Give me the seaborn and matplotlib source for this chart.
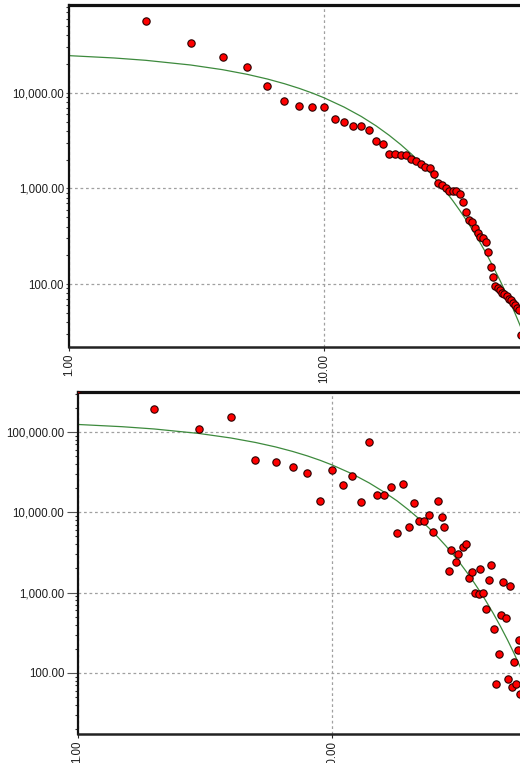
import numpy as np
import pandas as pd
import matplotlib
matplotlib.use("Agg")
import matplotlib.pyplot as plt
from matplotlib.ticker import FixedLocator, FuncFormatter, LogLocator, NullLocator, NullFormatter
import seaborn as sns

# ---------------- data ----------------
top_rank = list(range(2, 60))
top_value = [57000, 33700, 23700, 18600, 11800, 8300, 7360, 7080, 7080,
             5300, 4930, 4510, 4510, 4100, 3160, 2920, 2310, 2310, 2230,
             2230, 2020, 1940, 1800, 1690, 1630, 1430, 1130, 1090, 1005,
             948, 945, 940, 875, 716, 571, 464, 449, 383, 339, 313, 300,
             277, 218, 150, 119, 95, 91, 86, 81, 78, 74, 70, 68, 63, 60,
             56, 53, 29]
top_fit_x = [1, 1.5, 2, 3, 4, 5, 6, 7, 8, 9, 10, 12, 14, 16, 18, 20, 22, 24,
             26, 28, 30, 32, 34, 36, 38, 40, 43, 46, 49, 52, 55, 58, 60]
top_fit_y = [24600, 23260, 21980, 19630, 17540, 15670, 14000, 12500, 11170,
             9980, 8910, 7110, 5680, 4530, 3610, 2880, 2300, 1840, 1470,
             1170, 933, 745, 594, 474, 378, 302, 215, 153, 109, 78, 56, 40, 32]

bot_rank = [1, 2, 3, 4, 5, 6, 7, 8, 9, 10, 11, 12, 13, 14, 15, 16, 17, 18,
            19, 20, 21, 22, 23, 24, 25, 26, 27, 27.6, 28.7, 29.4, 30.6,
            31.4, 32.6, 33.6, 34.4, 35.6, 36.6, 37.8, 38.3, 39.2, 40.4,
            41.4, 42.2, 43.4, 44.2, 45.3, 46.1, 46.9, 48.4, 49.1, 50.0,
            51.0, 51.8, 52.9, 53.6, 54.4, 54.6]
bot_value = [345000, 193000, 110000, 154000, 44400, 41900, 36400, 30600,
             13900, 33600, 21900, 28100, 13500, 75700, 16400, 16400, 20800,
             5470, 22200, 6520, 13200, 7680, 7680, 9180, 5640, 13900, 8670,
             6520, 1840, 3370, 2370, 3030, 3730, 4050, 1500, 1780, 980, 962,
             1950, 980, 625, 1415, 2220, 355, 73, 171, 526, 1335, 483, 84,
             1210, 67, 136, 73, 191, 253, 54]
bot_fit_x = [1, 1.5, 2, 3, 4, 5, 6, 7, 8, 9, 10, 12, 14, 16, 18, 20, 22, 24,
             26, 28, 30, 32, 34, 36, 38, 40, 43, 46, 49, 52, 55, 58, 60]
bot_fit_y = [124200, 116400, 109100, 95900, 84300, 74100, 65200, 57300, 50400,
             44300, 38900, 30100, 23200, 17900, 13900, 10700, 8280, 6400, 4940,
             3820, 2950, 2280, 1760, 1360, 1050, 813, 552, 375, 255, 173, 117,
             80, 62]

top_yticks = [100, 1000, 10000]
bot_yticks = [100, 1000, 10000, 100000]
x_ticks = [1, 10]
x_tick_labels = ["1.00", "10.00"]

# ---------------- styling ----------------
sns.set_theme(style="white")
plt.rcParams["font.family"] = ["Liberation Sans", "DejaVu Sans"]

W, H = 520, 763
fig = plt.figure(figsize=(W / 100, H / 100), dpi=100)
fig.patch.set_facecolor("white")

def px_axes(left, top, right, bottom):
    return fig.add_axes([left / W, (H - bottom) / H, (right - left) / W, (bottom - top) / H])

POINT = "#ff0000"
EDGE = "#2a0000"
FIT = "#3d8a3d"
GRID = "#a0a0a0"
TXT = "#1e1e1e"

def xfmt(v, p):
    r = int(round(v))
    return x_tick_labels[x_ticks.index(r)] if r in x_ticks else ""

def style_axes(ax, xlim, ylim, yticks, ytick_len):
    ax.set_xscale("log")
    ax.set_yscale("log")
    ax.set_xlim(*xlim)
    ax.set_ylim(*ylim)
    ax.xaxis.set_major_locator(FixedLocator(x_ticks))
    ax.xaxis.set_major_formatter(FuncFormatter(xfmt))
    ax.xaxis.set_minor_locator(NullLocator())
    ax.yaxis.set_major_locator(FixedLocator(yticks))
    ax.yaxis.set_major_formatter(FuncFormatter(lambda v, p: f"{v:,.2f}"))
    ax.yaxis.set_minor_locator(LogLocator(base=10, subs=np.arange(2, 10)))
    ax.yaxis.set_minor_formatter(NullFormatter())
    ax.grid(True, which="major", linestyle=(0, (2.2, 2.2)), color=GRID, linewidth=0.9)
    ax.tick_params(axis="x", which="major", length=3, width=0.8, pad=2,
                   labelsize=8.3, labelcolor=TXT, labelrotation=90, bottom=True)
    ax.tick_params(axis="y", which="major", length=ytick_len, width=0.8, pad=1.5,
                   labelsize=8.3, labelcolor=TXT, left=True, color="#555555")
    ax.tick_params(axis="y", which="minor", length=2.5, width=0.8, left=True, color="#333333")
    for lbl in ax.get_xticklabels():
        lbl.set_va("top")
    ax.spines["right"].set_visible(False)
    ax.spines["top"].set_linewidth(2.3)
    ax.spines["top"].set_color("#111111")
    ax.spines["left"].set_linewidth(1.6)
    ax.spines["left"].set_color("#111111")
    ax.spines["bottom"].set_linewidth(1.8)
    ax.spines["bottom"].set_color("#222222")
    ax.set_xlabel("")
    ax.set_ylabel("")
    ax.set_facecolor("white")

# ---------------- top panel ----------------
ax1 = px_axes(69, 5, 520, 347)
top_df = pd.DataFrame({"rank": top_rank, "value": top_value})
top_fit = pd.DataFrame({"rank": top_fit_x, "value": top_fit_y})
sns.lineplot(data=top_fit, x="rank", y="value", ax=ax1, color=FIT, linewidth=0.9, zorder=2)
sns.scatterplot(data=top_df, x="rank", y="value", ax=ax1, s=28, color=POINT,
                edgecolor=EDGE, linewidth=0.8, zorder=3)
style_axes(ax1, (1, 58.7), (21.9, 83400), top_yticks, 2)

# ---------------- bottom panel ----------------
ax2 = px_axes(77.5, 392, 520, 734)
bot_df = pd.DataFrame({"rank": bot_rank, "value": bot_value})
bot_fit = pd.DataFrame({"rank": bot_fit_x, "value": bot_fit_y})
sns.lineplot(data=bot_fit, x="rank", y="value", ax=ax2, color=FIT, linewidth=0.9, zorder=2)
sns.scatterplot(data=bot_df, x="rank", y="value", ax=ax2, s=28, color=POINT,
                edgecolor=EDGE, linewidth=0.8, zorder=3)
style_axes(ax2, (1, 54.8), (17.3, 315000), bot_yticks, 8)

fig.savefig("out.png", dpi=100, facecolor="white")
